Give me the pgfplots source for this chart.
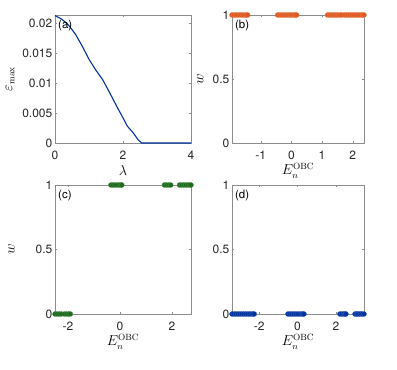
\documentclass[border=0pt]{standalone}
\usepackage{pgfplots}
\pgfplotsset{compat=1.18}
\usepackage[no-math]{fontspec}
\setmainfont{TeX Gyre Heros}

\definecolor{mblue}{RGB}{0,51,160}
\definecolor{morange}{RGB}{224,88,30}
\definecolor{mgreen}{RGB}{28,108,28}

\pgfplotsset{
  panel/.style={
    scale only axis,
    axis line style={black!45},
    tick style={black!45},
    major tick length=2pt,
    tick align=inside,
    ticklabel style={font=\fontsize{12}{14}\selectfont, text=black!85},
    yticklabel style={inner sep=2.5pt},
    xticklabel style={yshift=-4pt},
    /pgf/number format/assume math mode=true,
    label style={font=\fontsize{13.5}{16}\selectfont},
    xlabel style={at={(axis description cs:0.5,0)}, anchor=center, yshift=-28pt},
    clip=false,
  },
  dots/.style={only marks, mark=*, mark size=2.5pt,
    mark options={fill=#1, draw=#1!80!white, line width=0.3pt}},
}

\newcommand{\plab}[1]{\node[anchor=north west, inner sep=0pt, font=\fontsize{11.5}{13}\selectfont]
  at (axis description cs:0.022,0.965) {#1};}

\begin{document}
\begin{tikzpicture}
\useasboundingbox (0,0) rectangle (397pt,370pt);

% (a)
\begin{axis}[panel, at={(55pt,227pt)}, anchor=south west,
  width=136pt, height=128pt,
  xmin=0, xmax=4, ymin=0, ymax=0.0214,
  xtick={0,2,4},
  ytick={0,0.005,0.01,0.015,0.02},
  yticklabels={0,0.005,0.01,0.015,0.02},
  scaled y ticks=false,
  xlabel={$\lambda$},
  ylabel={$\varepsilon_{\max}$},
  ylabel style={at={(axis description cs:-0.33,0.5)}, anchor=center},
]
\addplot[mblue, line width=1.1pt] coordinates {
 (0,0.0213) (0.2,0.0207) (0.4,0.0197) (0.6,0.0182) (0.8,0.0162)
 (1.0,0.0140) (1.2,0.0122) (1.4,0.0106) (1.6,0.0085) (1.8,0.0063)
 (2.0,0.0042) (2.13,0.0028) (2.3,0.0017) (2.45,0.0005) (2.55,0)
 (3,0) (3.5,0) (4,0)};
\plab{(a)}
\end{axis}

% (b)
\begin{axis}[panel, at={(232pt,227pt)}, anchor=south west,
  width=132pt, height=128pt,
  xmin=-1.94, xmax=2.37, ymin=0, ymax=1,
  xtick={-1,0,1,2}, ytick={0,0.5,1},
  xlabel={$E_n^{\mathrm{OBC}}$},
  ylabel={$w$},
  ylabel style={at={(axis description cs:-0.24,0.5)}, anchor=center},
]
\addplot[dots=morange] coordinates {
 (-1.94,1) (-1.88,1) (-1.82,1) (-1.77,1)
 (-1.70,1) (-1.64,1) (-1.58,1) (-1.52,1) (-1.47,1) (-1.43,1)
 (-0.45,1) (-0.39,1) (-0.33,1) (-0.27,1) (-0.21,1) (-0.15,1) (-0.09,1)
 (-0.03,1) (0.03,1) (0.09,1) (0.14,1) (0.17,1)
 (1.18,1) (1.24,1) (1.30,1) (1.36,1) (1.42,1) (1.48,1) (1.54,1) (1.60,1) (1.65,1)
 (1.73,1) (1.79,1) (1.85,1) (1.91,1) (1.97,1) (2.03,1) (2.09,1) (2.15,1)
 (2.21,1) (2.27,1) (2.32,1) (2.37,1)};
\plab{(b)}
\end{axis}

% (c)
\begin{axis}[panel, at={(55pt,56pt)}, anchor=south west,
  width=136pt, height=129pt,
  xmin=-2.5, xmax=2.73, ymin=0, ymax=1,
  xtick={-2,0,2}, ytick={0,0.5,1},
  xlabel={$E_n^{\mathrm{OBC}}$},
  ylabel={$w$},
  ylabel style={at={(axis description cs:-0.32,0.5)}, anchor=center},
]
\addplot[dots=mgreen] coordinates {
 (-2.50,0) (-2.42,0) (-2.34,0) (-2.26,0)
 (-2.14,0) (-2.06,0) (-1.98,0) (-1.91,0)
 (-0.35,1) (-0.27,1) (-0.19,1) (-0.11,1) (-0.03,1) (0.04,1) (0.07,1)
 (1.71,1) (1.79,1) (1.87,1) (1.95,1)
 (2.29,1) (2.37,1) (2.45,1) (2.53,1) (2.61,1) (2.68,1) (2.73,1)};
\plab{(c)}
\end{axis}

% (d)
\begin{axis}[panel, at={(232pt,56pt)}, anchor=south west,
  width=132pt, height=129pt,
  xmin=-3.42, xmax=3.47, ymin=0, ymax=1,
  xtick={-2,0,2}, ytick={0,0.5,1},
  xlabel={$E_n^{\mathrm{OBC}}$},
]
\addplot[dots=mblue] coordinates {
 (-3.42,0) (-3.32,0) (-3.22,0) (-3.12,0) (-3.02,0) (-2.92,0) (-2.82,0)
 (-2.72,0) (-2.62,0) (-2.52,0) (-2.42,0) (-2.33,0) (-2.26,0)
 (-0.50,0) (-0.40,0) (-0.30,0) (-0.20,0) (-0.10,0) (0.00,0) (0.10,0)
 (0.20,0) (0.28,0) (0.34,0)
 (2.21,0) (2.31,0) (2.41,0) (2.48,0) (2.53,0)
 (3.00,0) (3.08,0) (3.13,0)
 (3.22,0) (3.30,0) (3.38,0) (3.47,0)};
\plab{(d)}
\end{axis}
\end{tikzpicture}
\end{document}
